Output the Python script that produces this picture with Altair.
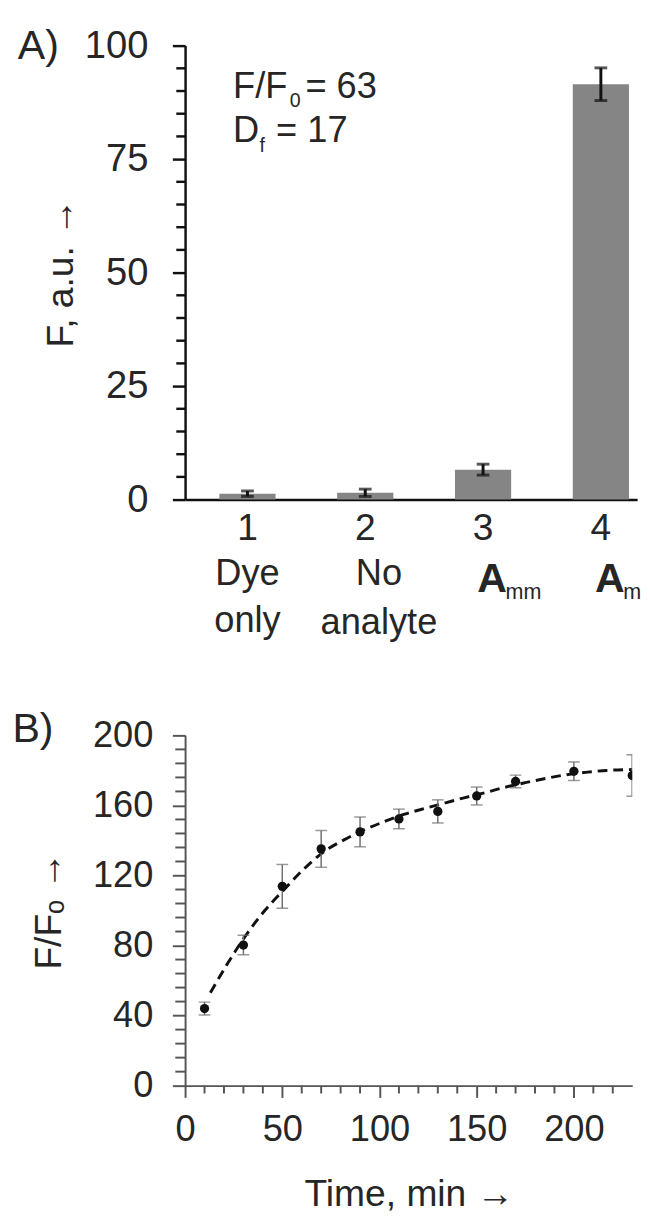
import altair as alt
import pandas as pd

FONT = "Liberation Sans"
TXT = "#262626"

# ---------------- Panel A data ----------------
categories = ["1", "2", "3", "4"]
line1_labels = ["Dye", "No", "", ""]
line2_labels = ["only", "analyte", "", ""]
analyte_main = ["", "", "A", "A"]
analyte_sub = ["", "", "mm", "m"]
intensity = [1.3, 1.5, 6.6, 91.5]
intensity_err = [0.6, 0.8, 1.2, 3.6]
y_ticks_a = [0, 25, 50, 75, 100]
y_minor_a = [5, 10, 15, 20, 30, 35, 40, 45, 55, 60, 65, 70, 80, 85, 90, 95]
ratio_parts = ["F/F", "0", "= 63"]
df_parts = ["D", "f", "= 17"]
panel_tags = ["A)", "B)"]

# ---------------- Panel B data ----------------
time_min = [10, 30, 50, 70, 90, 110, 130, 150, 170, 200, 230]
ratio = [44.0, 80.3, 113.8, 135.2, 144.9, 152.3, 156.6, 165.4, 173.7, 179.5, 177.1]
ratio_err = [3.7, 5.6, 12.5, 10.5, 8.5, 5.6, 6.6, 5.1, 3.6, 5.3, 11.8]
fit_time = [13, 22, 32, 41, 51, 60, 72, 82, 92, 103, 113, 124, 134, 144, 155, 165, 175, 186, 196, 207, 217, 230]
fit_ratio = [53, 70, 87, 100, 112, 122.5, 134, 140.5, 146, 151, 155, 158.5, 161.5, 164.5, 167.5, 170.5,
             173, 175.5, 177.5, 179, 180, 180.5]
x_ticks_b = [0, 50, 100, 150, 200]
x_minor_b = [10, 20, 30, 40, 60, 70, 80, 90, 110, 120, 130, 140, 160, 170, 180, 190, 210, 220]
y_ticks_b = [0, 40, 80, 120, 160, 200]
y_minor_b = [8, 16, 24, 32, 48, 56, 64, 72, 88, 96, 104, 112, 128, 136, 144, 152, 168, 176, 184, 192]

df_a = pd.DataFrame({
    "cat": categories,
    "val": intensity,
    "lo": [v - e for v, e in zip(intensity, intensity_err)],
    "hi": [v + e for v, e in zip(intensity, intensity_err)],
    "l1": line1_labels,
    "l2": line2_labels,
    "am": analyte_main,
    "asub": analyte_sub,
})
df_b = pd.DataFrame({
    "t": time_min,
    "r": ratio,
    "lo": [v - e for v, e in zip(ratio, ratio_err)],
    "hi": [v + e for v, e in zip(ratio, ratio_err)],
})
df_fit = pd.DataFrame({"t": fit_time, "r": fit_ratio})

WA, HA = 462, 464
WB, HB = 457, 358

# ---------------- Panel A ----------------
xa = alt.Scale(domain=categories, paddingInner=0.523, paddingOuter=0.18, align=0.808)
ya = alt.Scale(domain=[0, 100], nice=False)

axis_xa = alt.Axis(title=None, labelAngle=0, ticks=False, domainColor="#111", domainWidth=2.5,
                   labelFontSize=38, labelPadding=11, labelColor=TXT, labelFont=FONT, grid=False)
axis_ya = alt.Axis(values=y_ticks_a, title="F, a.u. →", tickSize=13, tickWidth=2.5, tickColor="#111",
                   domainColor="#111", domainWidth=2.5, labelFontSize=39, labelPadding=25,
                   labelColor=TXT, labelFont=FONT, labelFlush=False, titleFont=FONT,
                   titleFontSize=38, titleFontWeight="normal", titleColor=TXT, titlePadding=4, grid=False)

XA = lambda f: alt.X(f, type="nominal", scale=xa, sort=categories, axis=axis_xa)
YA = lambda f: alt.Y(f, type="quantitative", scale=ya, axis=axis_ya)

bars = alt.Chart(df_a).mark_bar(color="#858585").encode(x=XA("cat"), y=YA("val"))
err_a = alt.Chart(df_a).mark_rule(color="#111", strokeWidth=3).encode(
    x=XA("cat"), y=YA("lo"), y2="hi:Q")
cap_lo_a = alt.Chart(df_a).mark_tick(color="#111", thickness=3, size=13).encode(x=XA("cat"), y=YA("lo"))
cap_hi_a = alt.Chart(df_a).mark_tick(color="#111", thickness=3, size=13).encode(x=XA("cat"), y=YA("hi"))
minor_a = alt.Chart(pd.DataFrame({"m": y_minor_a})).mark_rule(color="#111", strokeWidth=2.5).encode(
    y=YA("m"), x=alt.value(-9), x2=alt.value(0))

def cat_text(field, y, size, dx=0, weight="normal", align="center", flt=None):
    c = alt.Chart(df_a)
    if flt is not None:
        c = c.transform_filter(flt)
    return c.mark_text(font=FONT, fontSize=size, fontWeight=weight, color=TXT, align=align,
                       baseline="alphabetic", dx=dx).encode(
        x=XA("cat"), y=alt.value(y), text=alt.Text(field + ":N"))

lab1a = cat_text("l1", 551, 37, flt="datum.cat != '2'")
lab1b = cat_text("l1", 551, 37, dx=14, flt="datum.cat == '2'")
lab2a = cat_text("l2", 599, 37, flt="datum.cat != '2'")
lab2b = cat_text("l2", 601, 37, dx=14, flt="datum.cat == '2'")
labA = cat_text("am", 558, 42, dx=-6, weight="bold", align="left")
labS = cat_text("asub", 566, 22, dx=23, align="left")

def note(text, x, y, size, align="left"):
    return alt.Chart(pd.DataFrame({"s": [text]})).mark_text(
        font=FONT, fontSize=size, color=TXT, align=align, baseline="alphabetic").encode(
        x=alt.value(x), y=alt.value(y), text="s:N")

notes_a = [
    note(ratio_parts[0], 49, 54, 37), note(ratio_parts[1], 107, 63, 20), note(ratio_parts[2], 123, 54, 37),
    note(df_parts[0], 49, 99, 37), note(df_parts[1], 76, 109, 20), note(df_parts[2], 93, 99, 37),
    note(panel_tags[0], -171, 14, 42),
]

panel_a = alt.layer(bars, err_a, cap_lo_a, cap_hi_a, minor_a, lab1a, lab1b, lab2a, lab2b, labA, labS,
                    *notes_a).properties(width=WA, height=HA)

# ---------------- Panel B ----------------
xb = alt.Scale(domain=[0, 230], nice=False)
yb = alt.Scale(domain=[0, 200], nice=False)
GB = "#555"
axis_xb = alt.Axis(values=x_ticks_b, title="Time, min →", tickSize=12, tickWidth=2, tickColor=GB,
                   domainColor=GB, domainWidth=2, labelFontSize=37, labelPadding=15, labelColor=TXT,
                   labelFont=FONT, labelFlush=False, labelOverlap=False, titleFont=FONT,
                   titleFontSize=38, titleFontWeight="normal", titleColor=TXT, titlePadding=29, grid=False)
axis_yb = alt.Axis(values=y_ticks_b, title="F/Fₒ →", tickSize=13, tickWidth=2, tickColor=GB,
                   domainColor=GB, domainWidth=2, labelFontSize=37, labelPadding=20, labelColor=TXT,
                   labelFont=FONT, labelFlush=False, labelOverlap=False, titleFont=FONT,
                   titleFontSize=38, titleFontWeight="normal", titleColor=TXT, titlePadding=25, grid=False)

XB = lambda f: alt.X(f, type="quantitative", scale=xb, axis=axis_xb)
YB = lambda f: alt.Y(f, type="quantitative", scale=yb, axis=axis_yb)

fit_line = alt.Chart(df_fit).mark_line(color="#111", strokeWidth=3, strokeDash=[10, 6], clip=True,
                                       interpolate="monotone").encode(x=XB("t"), y=YB("r"))
err_b = alt.Chart(df_b).mark_rule(color="#6e6e6e", strokeWidth=1.5, clip=True).encode(
    x=XB("t"), y=YB("lo"), y2="hi:Q")
cap_lo_b = alt.Chart(df_b).mark_tick(color="#6e6e6e", thickness=1.5, size=12, orient="horizontal",
                                     clip=True).encode(x=XB("t"), y=YB("lo"))
cap_hi_b = alt.Chart(df_b).mark_tick(color="#6e6e6e", thickness=1.5, size=12, orient="horizontal",
                                     clip=True).encode(x=XB("t"), y=YB("hi"))
pts_b = alt.Chart(df_b).mark_circle(color="#111", size=90, opacity=1, clip=True).encode(
    x=XB("t"), y=YB("r"))
minor_xb = alt.Chart(pd.DataFrame({"m": x_minor_b})).mark_rule(color=GB, strokeWidth=2).encode(
    x=XB("m"), y=alt.value(HB), y2=alt.value(HB + 8))
minor_yb = alt.Chart(pd.DataFrame({"m": y_minor_b})).mark_rule(color=GB, strokeWidth=2).encode(
    y=YB("m"), x=alt.value(-10), x2=alt.value(0))
tag_b = note(panel_tags[1], -176.5, 7, 42)

panel_b = alt.layer(fit_line, err_b, cap_lo_b, cap_hi_b, pts_b, minor_xb, minor_yb, tag_b).properties(
    width=WB, height=HB)

chart = alt.vconcat(panel_a, panel_b, spacing=70).properties(
    padding={"left": 4, "top": 5, "right": 0, "bottom": 0}
).configure_view(stroke=None).configure_axis(labelFont=FONT, titleFont=FONT)

chart.save("out.html", embed_options={"renderer": "svg", "actions": False})
